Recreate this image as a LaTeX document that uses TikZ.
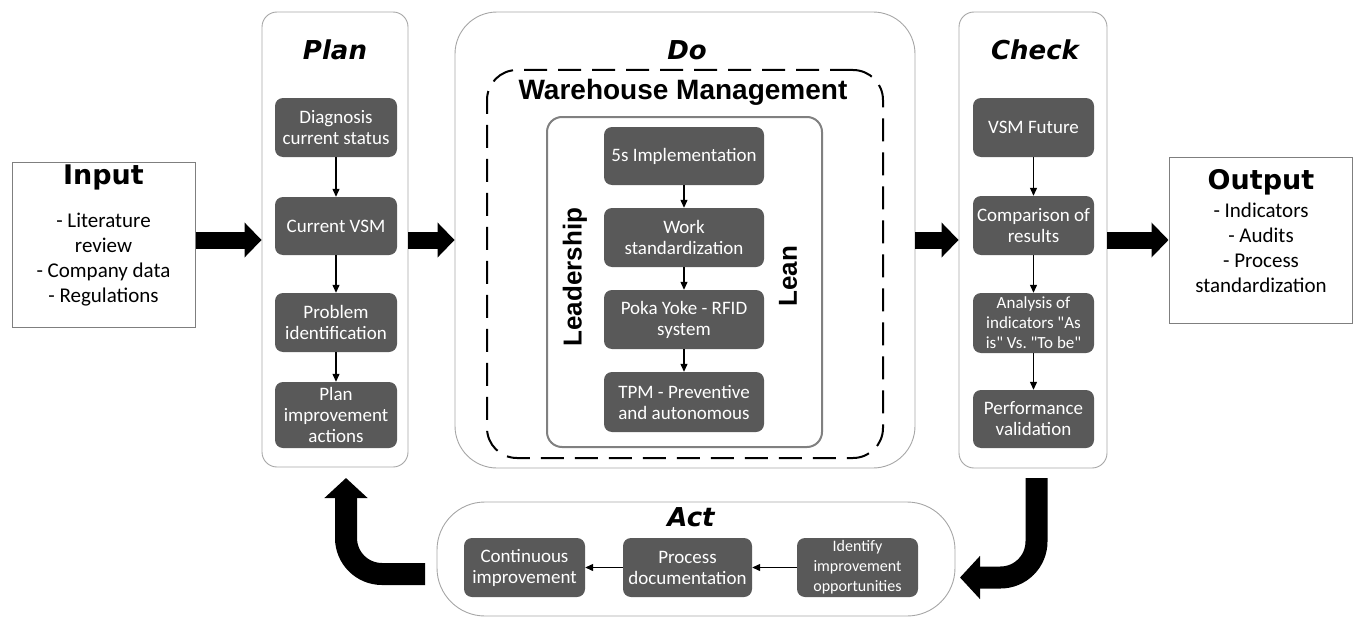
\documentclass[tikz,border=0pt]{standalone}
\usepackage{fontspec}
\setmainfont{Carlito}
\newfontfamily\dejavu{DejaVu Sans}
\newfontfamily\libsans{Liberation Sans}
\usetikzlibrary{arrows.meta}
\definecolor{boxgray}{HTML}{595959}
\definecolor{panelgray}{HTML}{A6A6A6}
\definecolor{innergray}{HTML}{808080}
\definecolor{iogray}{HTML}{7F7F7F}
\begin{document}
\begin{tikzpicture}[x=1pt,y=-1pt,
  panel/.style={draw=panelgray, line width=0.9pt, rounded corners=15pt, inner sep=0pt},
  iobox/.style={draw=iogray, line width=1pt, inner sep=0pt},
  stepbox/.style={fill=boxgray, text=white, rounded corners=8pt, inner sep=0pt, align=center,
     font=\fontsize{19}{21}\selectfont},
  thinarrow/.style={-{Triangle[length=8pt,width=7pt]}, line width=1.2pt},
  blockarrow/.style={line width=17pt, -{Triangle[length=17pt,width=34pt]}},
  bendarrow/.style={line width=22pt, -{Triangle[length=20pt,width=42pt]}, rounded corners=36pt},
  phase/.style={inner sep=0pt, font=\dejavu\bfseries\itshape\fontsize{26}{30}\selectfont},
  iotitle/.style={inner sep=0pt, font=\dejavu\bfseries\fontsize{27}{30}\selectfont},
  iotext/.style={inner sep=0pt, align=center, font=\fontsize{21}{25}\selectfont},
  heavy/.style={inner sep=0pt, font=\libsans\bfseries\fontsize{26}{30}\selectfont}
]
\useasboundingbox (0,0) rectangle (1358,618);
\coordinate (mid) at (0,240);

% Input / Output
\node[iobox, minimum width=183pt, minimum height=165pt] (inp) at (103.5,244.5) {};
\node[iotitle] (inpt) at (103.5,177) {Input};
\node[iotext] (inpx) at (103.5,260) {- Literature\\review\\- Company data\\- Regulations};

\node[iobox, minimum width=183pt, minimum height=166pt] (outp) at (1260.5,240) {};
\node[iotitle] (outpt) at (1261,182) {Output};
\node[iotext] (outpx) at (1261,248) {- Indicators\\- Audits\\- Process\\standardization};

% Panels
\node[panel, minimum width=146pt, minimum height=455pt] (plan) at (335,239.5) {};
\node[panel, rounded corners=42pt, minimum width=460pt, minimum height=456pt] (do) at (685,240) {};
\node[panel, minimum width=148pt, minimum height=456pt] (check) at (1033,240) {};
\node[panel, rounded corners=48pt, minimum width=518pt, minimum height=114pt] (act) at (696,559) {};

\node[draw, line width=2pt, dash pattern=on 23pt off 11pt, rounded corners=30pt, inner sep=0pt,
      minimum width=396pt, minimum height=388pt] (wm) at (685,264) {};
\node[draw=innergray, line width=2pt, rounded corners=15pt, inner sep=0pt,
      minimum width=275pt, minimum height=330pt] (lean) at (684.5,282) {};

% Titles
\node[phase] (plant) at (335,50) {Plan};
\node[phase] (dot) at (687,50) {Do};
\node[phase] (checkt) at (1035,50) {Check};
\node[phase] (actt) at (691,517) {Act};
\node[inner sep=0pt, font=\libsans\bfseries\fontsize{28}{32}\selectfont] (wmt) at (683,92) {Warehouse Management};
\node[heavy, rotate=90] (leadt) at (575,277) {Leadership};
\node[heavy, rotate=90] (leant) at (788,276) {Lean};

% Plan boxes
\node[stepbox, minimum width=122pt, minimum height=59pt] (p1) at (336,127.5) {Diagnosis\\current status};
\node[stepbox, minimum width=122pt, minimum height=58pt] (p2) at (336,226) {Current VSM};
\node[stepbox, minimum width=122pt, minimum height=59pt] (p3) at (336,322.5) {Problem\\identification};
\node[stepbox, minimum width=122pt, minimum height=66pt] (p4) at (336,415) {Plan\\improvement\\actions};

% Do boxes
\node[stepbox, minimum width=160pt, minimum height=58pt] (d1) at (684,156) {5s Implementation};
\node[stepbox, minimum width=160pt, minimum height=59pt] (d2) at (684,237.5) {Work\\standardization};
\node[stepbox, minimum width=160pt, minimum height=59pt] (d3) at (684,319.5) {Poka Yoke - RFID\\system};
\node[stepbox, minimum width=160pt, minimum height=60pt] (d4) at (684,402) {TPM - Preventive\\and autonomous};

% Check boxes
\node[stepbox, minimum width=121pt, minimum height=59pt] (c1) at (1033.5,127.5) {VSM Future};
\node[stepbox, minimum width=121pt, minimum height=59pt] (c2) at (1033.5,225.5) {Comparison of\\results};
\node[stepbox, minimum width=121pt, minimum height=60pt, font=\fontsize{17}{20}\selectfont] (c3) at (1033.5,323) {Analysis of\\indicators \textquotedbl As\\is\textquotedbl{} Vs.\ \textquotedbl To be\textquotedbl};
\node[stepbox, minimum width=121pt, minimum height=58pt] (c4) at (1033.5,419) {Performance\\validation};

% Act boxes
\node[stepbox, minimum width=121pt, minimum height=59pt] (a1) at (524.5,567.5) {Continuous\\improvement};
\node[stepbox, minimum width=129pt, minimum height=59pt] (a2) at (687.5,567.5) {Process\\documentation};
\node[stepbox, minimum width=121pt, minimum height=59pt, font=\fontsize{16}{20}\selectfont] (a3) at (857.5,567.5) {Identify\\improvement\\opportunities};

% Thin arrows
\draw[thinarrow] (p1) -- (p2);
\draw[thinarrow] (p2) -- (p3);
\draw[thinarrow] (p3) -- (p4);
\draw[thinarrow] (d1) -- (d2);
\draw[thinarrow] (d2) -- (d3);
\draw[thinarrow] (d3) -- (d4);
\draw[thinarrow] (c1) -- (c2);
\draw[thinarrow] (c2) -- (c3);
\draw[thinarrow] (c3) -- (c4);
\draw[thinarrow] (a3) -- (a2);
\draw[thinarrow] (a2) -- (a1);

% Block arrows
\draw[blockarrow] (inp.east |- mid) -- (plan.west |- mid);
\draw[blockarrow] (plan.east |- mid) -- (do.west |- mid);
\draw[blockarrow] (do.east |- mid) -- (check.west |- mid);
\draw[blockarrow] (check.east |- mid) -- (outp.west |- mid);

% Bent arrows
\coordinate (chkout) at (1036.5,478);
\coordinate (chkbend) at (1036.5,577.5);
\coordinate (actin) at (960,577.5);
\draw[bendarrow] (chkout) -- (chkbend) -- (actin);
\coordinate (actout) at (425,574);
\coordinate (actbend) at (346,574);
\coordinate (planin) at (346,478);
\draw[bendarrow] (actout) -- (actbend) -- (planin);
\end{tikzpicture}
\end{document}
